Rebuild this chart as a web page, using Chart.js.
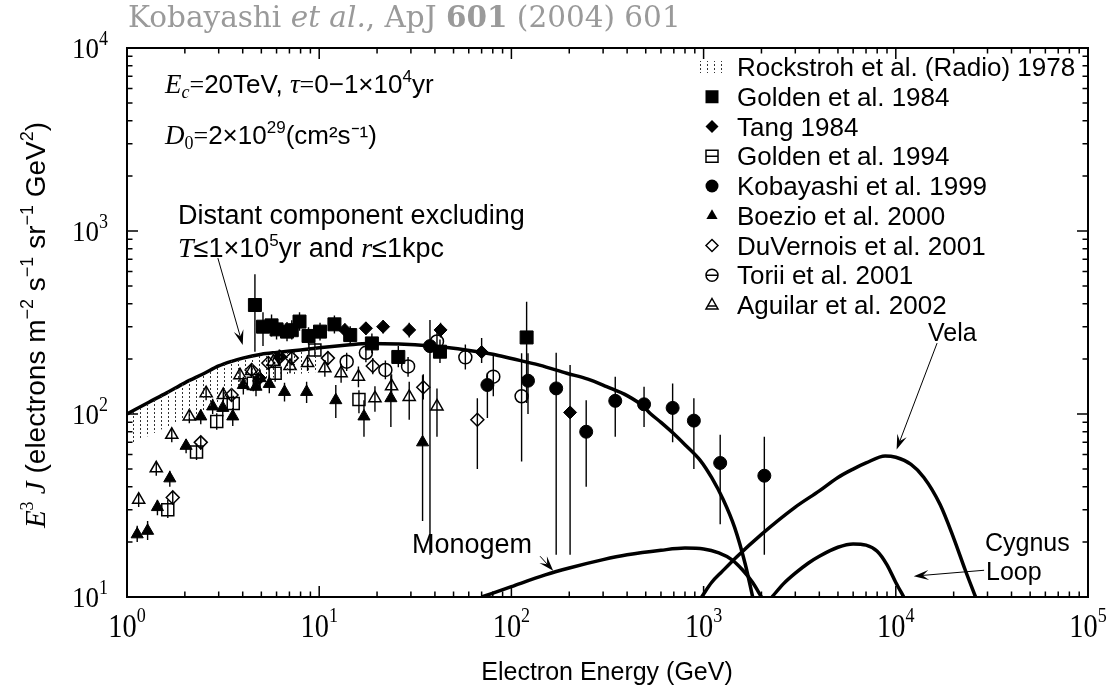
<!DOCTYPE html>
<html>
<head>
<meta charset="utf-8">
<script src="https://cdn.jsdelivr.net/npm/chart.js@4.4.1/dist/chart.umd.min.js"></script>
<style>
  html, body { margin: 0; padding: 0; background: #fff; }
</style>
</head>
<body>
<canvas id="myChart" width="1108" height="686"></canvas>
<script>
// energies in GeV, fluxes as E^3 J
const distantE = [1, 1.3, 1.6, 2, 2.5, 3, 3.5, 4, 5, 6, 8, 10, 14, 18, 26, 38, 58, 80, 100, 140, 194, 250, 313, 400, 486, 526, 600, 700, 800, 958, 1100, 1266, 1450, 1650, 1800];
const distantJ = [100, 116, 130, 148, 166, 183, 194, 202, 212, 217, 224, 230, 238, 243, 241, 235, 224, 212, 201, 185, 167, 155, 141, 126, 110, 101, 90, 78, 68, 56, 45, 34, 24, 15, 10];

const monogemE = [70, 100, 150, 200, 300, 400, 600, 800, 1000, 1200, 1400, 1600, 1800, 2000];
const monogemJ = [10, 11.4, 13.2, 14.4, 16, 17, 18, 18.5, 18.3, 17.4, 16, 14, 12, 10];

const velaE = [977, 1100, 1250, 1480, 2000, 3000, 4000, 5000, 6000, 7000, 8800, 10000, 12000, 14000, 17000, 20000, 23000, 26000];
const velaJ = [10, 12, 13.8, 16.5, 22, 31, 38, 45, 50, 54, 59, 58, 53, 45, 32, 21, 14, 10];

const cygnusE = [2270, 2600, 3000, 3500, 4000, 5000, 6000, 7000, 8000, 9000, 10000, 11000];
const cygnusJ = [10, 11.8, 13.5, 15.3, 16.7, 18.7, 19.5, 19.2, 17.8, 15, 12, 10];

// radio band (Rockstroh 1978)
const radioE = [1, 1.3, 1.6, 2, 2.4, 3, 3.6, 4.5, 6, 8, 10];
const radioLo = [68, 76, 85, 93, 100, 115, 135, 150, 160, 166, 170];
const radioHi = [100, 116, 130, 148, 162, 183, 197, 207, 217, 224, 230];

const golden84E = [4.63, 5.1, 5.65, 6.0, 6.8, 7.2, 7.9, 8.8, 10.1, 12.0, 14.5, 18.8, 25.8, 42.5, 120];
const golden84J = [394, 300, 305, 290, 282, 287, 320, 267, 282, 309, 270, 243, 205, 219, 262];
const golden84Lo = [219, 235, 265, 255, 250, 255, 285, 240, 252, 275, 242, 215, 180, 190, 115];
const golden84Hi = [580, 360, 350, 330, 318, 325, 360, 298, 315, 345, 302, 275, 235, 255, 410];

const tangE = [4.9, 6.2, 13.6, 17.5, 21.5, 29.4, 42.8, 70, 202];
const tangJ = [157, 205, 288, 294, 300, 288, 288, 218, 102];
const tangLo = [140, 185, 265, 270, 275, 262, 262, 190, 17];
const tangHi = [175, 225, 312, 318, 325, 315, 315, 260, 185];

const golden94E = [1.63, 2.3, 2.93, 3.57, 4.54, 5.9, 9.5, 16.1];
const golden94J = [30, 62, 91, 114, 147, 167, 224, 120];
const golden94Lo = [27, 56, 82, 103, 133, 150, 205, 101];
const golden94Hi = [34, 69, 101, 126, 162, 186, 245, 135];

const kobayashiE = [37.7, 75, 122, 171, 245, 347, 490, 690, 890, 1220, 2070];
const kobayashiJ = [235, 144, 152, 138, 80, 118, 113, 108, 92, 54, 46];
const kobayashiLo = [17, 95, 100, 17, 40, 75, 85, 70, 50, 25, 17];
const kobayashiHi = [326, 168, 215, 216, 119, 160, 141, 147, 122, 77, 75];

const boezioE = [1.13, 1.28, 1.44, 1.67, 2.03, 2.42, 2.79, 3.15, 3.55, 4.03, 4.69, 4.92, 5.5, 6.6, 8.6, 12.2, 17.1, 23.6, 34.5];
const boezioJ = [22, 23, 31, 44.5, 67, 97, 110, 108, 97, 144, 141, 157, 146, 132, 132, 119, 97, 122, 70];
const boezioLo = [20, 20.5, 28, 40, 61, 88, 100, 97, 86, 128, 125, 140, 130, 117, 115, 95, 75, 85, 26];
const boezioHi = [24.5, 26, 34, 49, 73, 106, 121, 119, 108, 160, 157, 175, 163, 148, 150, 144, 119, 163, 163];

const duvernoisE = [1.73, 2.42, 3.5, 4.45, 5.44, 6.25, 7.2, 11.1, 19, 34.8, 66.5];
const duvernoisJ = [35, 70, 127, 174, 190, 205, 202, 202, 183, 140, 93];
const duvernoisLo = [32, 64, 117, 160, 175, 188, 185, 185, 165, 120, 50];
const duvernoisHi = [38, 76, 138, 188, 206, 222, 220, 220, 202, 165, 122];

const toriiE = [13.9, 17.5, 22.1, 29, 41, 57.6, 80.5, 113];
const toriiJ = [193, 216, 174, 182, 249, 204, 160, 125];
const toriiLo = [172, 192, 155, 160, 215, 175, 125, 55];
const toriiHi = [216, 242, 196, 205, 285, 240, 210, 215];

const aguilarE = [1.15, 1.42, 1.71, 2.11, 2.58, 3.17, 3.87, 4.45, 5.77, 7.05, 8.7, 10.7, 13, 16, 19.5, 23.8, 29.4, 41];
const aguilarJ = [34, 50.5, 77, 97, 130, 127, 163, 172, 193, 183, 190, 178, 167, 160, 122, 142, 124, 110];
const aguilarLo = [31, 46, 70, 89, 119, 116, 150, 158, 177, 167, 172, 160, 148, 140, 103, 120, 93, 75];
const aguilarHi = [37, 55, 84, 106, 142, 139, 177, 187, 210, 200, 210, 197, 188, 182, 142, 165, 150, 138];

const legendNames = [
  'Rockstroh et al. (Radio) 1978', 'Golden et al. 1984', 'Tang 1984', 'Golden et al. 1994',
  'Kobayashi et al. 1999', 'Boezio et al. 2000', 'DuVernois et al. 2001', 'Torii et al. 2001', 'Aguilar et al. 2002'
];

const xTickExp = [0, 1, 2, 3, 4, 5];
const yTickExp = [1, 2, 3, 4];

const SANS = '"Liberation Sans", Arial, sans-serif';
const SERIF = '"Liberation Serif", "Times New Roman", serif';
const SLAB = '"DejaVu Serif", serif';

function pts(xs, ys) {
  return xs.map((x, i) => ({ x: x, y: ys[i] }));
}

// vertical error bars as one broken line
function bars(xs, lo, hi) {
  let out = [];
  xs.forEach((x, i) => {
    out.push({ x: x, y: lo[i] }, { x: x, y: hi[i] }, { x: x, y: null });
  });
  return out;
}

// dotted fill for the radio band
const patCanvas = document.createElement('canvas');
patCanvas.width = 7;
patCanvas.height = 4;
const pctx = patCanvas.getContext('2d');
pctx.fillStyle = '#333';
pctx.fillRect(0, 0, 1, 2);
const dots = pctx.createPattern(patCanvas, 'repeat');

function curve(xs, ys) {
  return {
    type: 'line', data: pts(xs, ys), borderColor: '#000', borderWidth: 3.5,
    pointRadius: 0, fill: false, cubicInterpolationMode: 'monotone'
  };
}

function errSet(xs, lo, hi) {
  return {
    type: 'line', data: bars(xs, lo, hi), borderColor: '#000', borderWidth: 1.4,
    pointRadius: 0, fill: false, spanGaps: false, tension: 0
  };
}

function markers(xs, ys, style, r, filled) {
  return {
    type: 'scatter', data: pts(xs, ys), pointStyle: style, pointRadius: r,
    pointBorderColor: '#000', pointBackgroundColor: filled ? '#000' : 'rgba(0,0,0,0)',
    pointBorderWidth: filled ? 1 : 1.5, showLine: false
  };
}

function richWidth(ctx, parts) {
  let w = 0;
  parts.forEach(p => { ctx.font = p.f; w += ctx.measureText(p.t).width; });
  return w;
}

function drawRich(ctx, parts, x, y, align) {
  const w = richWidth(ctx, parts);
  let cx = align === 'center' ? x - w / 2 : (align === 'right' ? x - w : x);
  ctx.textAlign = 'left';
  ctx.textBaseline = 'alphabetic';
  parts.forEach(p => {
    ctx.font = p.f;
    ctx.fillText(p.t, cx, y + (p.dy || 0));
    cx += ctx.measureText(p.t).width;
  });
}

function arrow(ctx, x0, y0, x1, y1) {
  const ang = Math.atan2(y1 - y0, x1 - x0);
  const len = 15, half = 5;
  ctx.strokeStyle = '#000';
  ctx.fillStyle = '#000';
  ctx.lineWidth = 1;
  ctx.beginPath();
  ctx.moveTo(x0, y0);
  ctx.lineTo(x1 - Math.cos(ang) * 8, y1 - Math.sin(ang) * 8);
  ctx.stroke();
  ctx.save();
  ctx.translate(x1, y1);
  ctx.rotate(ang);
  ctx.beginPath();
  ctx.moveTo(0, 0);
  ctx.lineTo(-len, -half);
  ctx.lineTo(-len * 0.6, 0);
  ctx.lineTo(-len, half);
  ctx.closePath();
  ctx.fill();
  ctx.restore();
}

function legendMark(ctx, kind, x, y) {
  ctx.strokeStyle = '#000';
  ctx.fillStyle = '#000';
  ctx.lineWidth = 1.5;
  ctx.beginPath();
  if (kind === 'band') {
    ctx.fillStyle = dots;
    ctx.fillRect(x - 13, y - 6, 26, 12);
    return;
  }
  if (kind === 'fsquare') { ctx.fillRect(x - 6.5, y - 6.5, 13, 13); return; }
  if (kind === 'fdiamond') {
    ctx.moveTo(x, y - 6.5); ctx.lineTo(x + 6.5, y); ctx.lineTo(x, y + 6.5); ctx.lineTo(x - 6.5, y);
    ctx.closePath(); ctx.fill(); return;
  }
  if (kind === 'osquare') {
    ctx.strokeRect(x - 6, y - 6, 12, 12);
    ctx.moveTo(x - 6, y); ctx.lineTo(x + 6, y); ctx.stroke(); return;
  }
  if (kind === 'fcircle') { ctx.arc(x, y, 6.5, 0, Math.PI * 2); ctx.fill(); return; }
  if (kind === 'ftriangle') {
    ctx.moveTo(x, y - 6.5); ctx.lineTo(x + 5.6, y + 3.3); ctx.lineTo(x - 5.6, y + 3.3);
    ctx.closePath(); ctx.fill(); return;
  }
  if (kind === 'odiamond') {
    ctx.moveTo(x, y - 6); ctx.lineTo(x + 6, y); ctx.lineTo(x, y + 6); ctx.lineTo(x - 6, y);
    ctx.closePath(); ctx.stroke(); return;
  }
  if (kind === 'ocircle') {
    ctx.arc(x, y, 6, 0, Math.PI * 2); ctx.stroke();
    ctx.beginPath(); ctx.moveTo(x - 6, y); ctx.lineTo(x + 6, y); ctx.stroke(); return;
  }
  if (kind === 'otriangle') {
    ctx.moveTo(x, y - 6.5); ctx.lineTo(x + 6, y + 4); ctx.lineTo(x - 6, y + 4);
    ctx.closePath(); ctx.stroke();
    ctx.beginPath(); ctx.moveTo(x - 4, y + 1); ctx.lineTo(x + 4, y + 1); ctx.stroke();
  }
}

const legendKinds = ['band', 'fsquare', 'fdiamond', 'osquare', 'fcircle', 'ftriangle', 'odiamond', 'ocircle', 'otriangle'];

const framePlugin = {
  id: 'frame',
  afterDraw(chart) {
    const ctx = chart.ctx;
    const a = chart.chartArea;
    const sx = chart.scales.x, sy = chart.scales.y;
    ctx.save();

    // box and log ticks on all four sides
    ctx.strokeStyle = '#000';
    ctx.lineWidth = 2;
    ctx.strokeRect(a.left, a.top, a.right - a.left, a.bottom - a.top);
    ctx.lineWidth = 1.5;
    ctx.beginPath();
    for (let d = xTickExp[0]; d < xTickExp[xTickExp.length - 1]; d++) {
      for (let m = 1; m <= 9; m++) {
        const px = sx.getPixelForValue(m * Math.pow(10, d));
        const len = m === 1 ? 11 : 5.5;
        ctx.moveTo(px, a.bottom); ctx.lineTo(px, a.bottom - len);
        ctx.moveTo(px, a.top); ctx.lineTo(px, a.top + len);
      }
    }
    for (let d = yTickExp[0]; d < yTickExp[yTickExp.length - 1]; d++) {
      for (let m = 1; m <= 9; m++) {
        const py = sy.getPixelForValue(m * Math.pow(10, d));
        const len = m === 1 ? 11 : 5.5;
        ctx.moveTo(a.left, py); ctx.lineTo(a.left + len, py);
        ctx.moveTo(a.right, py); ctx.lineTo(a.right - len, py);
      }
    }
    ctx.stroke();

    // tick labels
    ctx.fillStyle = '#000';
    xTickExp.forEach(e => {
      const px = sx.getPixelForValue(Math.pow(10, e));
      ctx.save();
      ctx.translate(px, 637);
      ctx.scale(0.86, 1);
      drawRich(ctx, [
        { t: '10', f: `33px ${SERIF}` },
        { t: String(e), f: `21px ${SERIF}`, dy: -15 }
      ], 0, 0, 'center');
      ctx.restore();
    });
    yTickExp.forEach(e => {
      const py = Math.max(sy.getPixelForValue(Math.pow(10, e)) + 10, 30);
      ctx.save();
      ctx.translate(108, py);
      ctx.scale(0.9, 1);
      drawRich(ctx, [
        { t: '10', f: `30px ${SERIF}` },
        { t: String(e), f: `20px ${SERIF}`, dy: -13 }
      ], 0, 0, 'right');
      ctx.restore();
    });

    // axis titles
    drawRich(ctx, [{ t: 'Electron Energy (GeV)', f: `25px ${SANS}` }], 607, 680, 'center');
    ctx.save();
    ctx.translate(45, 325);
    ctx.rotate(-Math.PI / 2);
    drawRich(ctx, [
      { t: 'E', f: `italic 29px ${SERIF}` },
      { t: '3', f: `18px ${SERIF}`, dy: -12 },
      { t: ' J', f: `italic 29px ${SERIF}` },
      { t: ' (electrons m', f: `28px ${SANS}` },
      { t: '\u22122', f: `18px ${SANS}`, dy: -12 },
      { t: ' s', f: `28px ${SANS}` },
      { t: '\u22121', f: `18px ${SANS}`, dy: -12 },
      { t: ' sr', f: `28px ${SANS}` },
      { t: '\u22121', f: `18px ${SANS}`, dy: -12 },
      { t: ' GeV', f: `28px ${SANS}` },
      { t: '2', f: `18px ${SANS}`, dy: -12 },
      { t: ')', f: `28px ${SANS}` }
    ], 0, 0, 'center');
    ctx.restore();

    // title
    ctx.fillStyle = '#9a9a9a';
    drawRich(ctx, [
      { t: 'Kobayashi ', f: `29.5px ${SLAB}` },
      { t: 'et al.', f: `italic 29.5px ${SLAB}` },
      { t: ', ApJ ', f: `29.5px ${SLAB}` },
      { t: '601', f: `bold 29.5px ${SLAB}` },
      { t: ' (2004) 601', f: `29.5px ${SLAB}` }
    ], 128, 27, 'left');

    // model parameters
    ctx.fillStyle = '#000';
    drawRich(ctx, [
      { t: 'E', f: `italic 27px ${SERIF}` },
      { t: 'c', f: `italic 18px ${SERIF}`, dy: 5 },
      { t: '=', f: `26px ${SERIF}` },
      { t: '20TeV, ', f: `26px ${SANS}` },
      { t: '\u03c4', f: `italic 27px ${SERIF}` },
      { t: '=', f: `26px ${SERIF}` },
      { t: '0\u22121\u00d710', f: `26px ${SANS}` },
      { t: '4', f: `17px ${SANS}`, dy: -11 },
      { t: 'yr', f: `26px ${SANS}` }
    ], 165, 93, 'left');
    drawRich(ctx, [
      { t: 'D', f: `italic 27px ${SERIF}` },
      { t: '0', f: `18px ${SERIF}`, dy: 5 },
      { t: '=', f: `26px ${SERIF}` },
      { t: '2\u00d710', f: `26px ${SANS}` },
      { t: '29', f: `17px ${SANS}`, dy: -11 },
      { t: '(cm\u00b2s\u207b\u00b9)', f: `26px ${SANS}` }
    ], 165, 144, 'left');

    drawRich(ctx, [{ t: 'Distant component excluding', f: `27px ${SANS}` }], 178, 224, 'left');
    drawRich(ctx, [
      { t: 'T', f: `italic 28px ${SERIF}` },
      { t: '\u22641\u00d710', f: `27px ${SANS}` },
      { t: '5', f: `17px ${SANS}`, dy: -11 },
      { t: 'yr and ', f: `27px ${SANS}` },
      { t: 'r', f: `italic 28px ${SERIF}` },
      { t: '\u22641kpc', f: `27px ${SANS}` }
    ], 178, 257, 'left');

    drawRich(ctx, [{ t: 'Vela', f: `25px ${SANS}` }], 928, 341, 'left');
    drawRich(ctx, [{ t: 'Monogem', f: `27px ${SANS}` }], 412, 553, 'left');
    drawRich(ctx, [{ t: 'Cygnus', f: `25px ${SANS}` }], 985, 551, 'left');
    drawRich(ctx, [{ t: 'Loop', f: `25px ${SANS}` }], 986, 580, 'left');

    // arrows, anchored in data space
    const P = (e, j) => [sx.getPixelForValue(e), sy.getPixelForValue(j)];
    const arrows = [
      [P(2.97, 711), P(4.0, 238)],
      [P(16400, 244), P(10100, 64)],
      [P(141, 16.7), P(165, 13.9)],
      [P(28800, 14), P(12400, 13)]
    ];
    arrows.forEach(ar => arrow(ctx, ar[0][0], ar[0][1], ar[1][0], ar[1][1]));

    // legend
    legendNames.forEach((name, i) => {
      const y = 67 + i * 29.75;
      legendMark(ctx, legendKinds[i], 712, y);
      ctx.fillStyle = '#000';
      drawRich(ctx, [{ t: name, f: `26px ${SANS}` }], 737, y + 9, 'left');
    });

    ctx.restore();
  }
};

const ctx = document.getElementById('myChart');

const myChart = new Chart(ctx, {
  type: 'scatter',
  data: {
    datasets: [
      { type: 'line', data: pts(radioE, radioHi), borderWidth: 0, pointRadius: 0, fill: false, borderColor: 'rgba(0,0,0,0)' },
      { type: 'line', data: pts(radioE, radioLo), borderWidth: 0, pointRadius: 0, fill: '-1', backgroundColor: dots, borderColor: 'rgba(0,0,0,0)' },
      curve(distantE, distantJ),
      curve(monogemE, monogemJ),
      curve(velaE, velaJ),
      curve(cygnusE, cygnusJ),
      errSet(golden84E, golden84Lo, golden84Hi),
      errSet(tangE, tangLo, tangHi),
      errSet(golden94E, golden94Lo, golden94Hi),
      errSet(kobayashiE, kobayashiLo, kobayashiHi),
      errSet(boezioE, boezioLo, boezioHi),
      errSet(duvernoisE, duvernoisLo, duvernoisHi),
      errSet(toriiE, toriiLo, toriiHi),
      errSet(aguilarE, aguilarLo, aguilarHi),
      markers(golden84E, golden84J, 'rect', 9.2, true),
      markers(tangE, tangJ, 'rectRot', 6.5, true),
      markers(golden94E, golden94J, 'rect', 8.5, false),
      markers(kobayashiE, kobayashiJ, 'circle', 6.5, true),
      markers(boezioE, boezioJ, 'triangle', 7, true),
      markers(duvernoisE, duvernoisJ, 'rectRot', 6.5, false),
      markers(toriiE, toriiJ, 'circle', 6.5, false),
      markers(aguilarE, aguilarJ, 'triangle', 7, false)
    ]
  },
  options: {
    responsive: false,
    animation: false,
    devicePixelRatio: 1,
    layout: { padding: { left: 127, right: 20, top: 48, bottom: 89 } },
    scales: {
      x: { type: 'logarithmic', min: 1, max: 1e5, display: false },
      y: { type: 'logarithmic', min: 10, max: 1e4, display: false }
    },
    plugins: {
      legend: { display: false },
      tooltip: { enabled: false }
    }
  },
  plugins: [framePlugin]
});
</script>
</body>
</html>
